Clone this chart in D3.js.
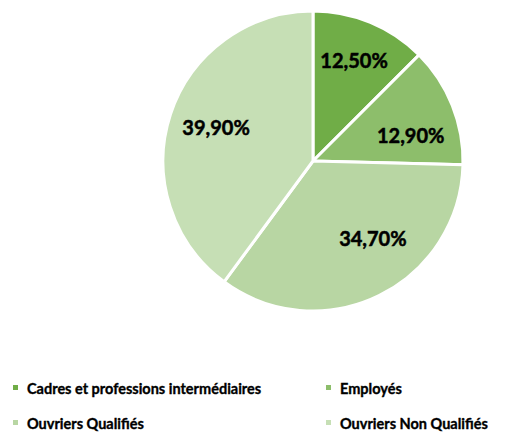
<!DOCTYPE html>
<html>
<head>
<meta charset="utf-8">
<script src="https://cdn.jsdelivr.net/npm/d3@7"></script>
<style>
  html, body { margin: 0; padding: 0; background: #fff; }
  svg { display: block; }
</style>
</head>
<body>
<svg id="chart" width="517" height="432"></svg>
<script>
const categories = ["Cadres et professions intermédiaires", "Employés", "Ouvriers Qualifiés", "Ouvriers Non Qualifiés"];
const values = [12.5, 12.9, 34.7, 39.9];
const labels = ["12,50%", "12,90%", "34,70%", "39,90%"];
const colors = ["#70AD47", "#8DBE6B", "#B8D6A3", "#C6DFB5"];

const svg = d3.select("#chart");
const cx = 313, cy = 161, r = 150;
// small label nudges (layout only, mimicking Excel best-fit placement)
const labelNudge = [[2, -7], [3, 12], [15, -15], [0, -2]];

const data = categories.map((c, i) => ({ cat: c, value: values[i], label: labels[i], color: colors[i], i }));

const pie = d3.pie().value(d => d.value).sort(null);
const arc = d3.arc().innerRadius(0).outerRadius(r);
const labelArc = d3.arc().innerRadius(r * 0.68).outerRadius(r * 0.68);

const g = svg.append("g").attr("transform", `translate(${cx},${cy})`);
const arcs = pie(data);

g.selectAll("path").data(arcs).enter().append("path")
  .attr("d", arc)
  .attr("fill", d => d.data.color)
  .attr("stroke", "#fff")
  .attr("stroke-width", 3)
  .attr("stroke-linejoin", "miter");

g.selectAll("text").data(arcs).enter().append("text")
  .attr("transform", d => {
    const [x, y] = labelArc.centroid(d);
    const n = labelNudge[d.data.i];
    return `translate(${x + n[0]},${y + n[1]})`;
  })
  .attr("text-anchor", "middle")
  .attr("dominant-baseline", "central")
  .attr("font-family", "Lato, sans-serif")
  .attr("font-weight", "bold")
  .attr("font-size", 20)
  .attr("fill", "#000")
  .attr("stroke", "#000")
  .attr("stroke-width", 0.5)
  .text(d => d.data.label);

// Legend
const legendPos = [
  { x: 13, y: 388 },
  { x: 326, y: 388 },
  { x: 13, y: 423 },
  { x: 326, y: 423 }
];
const lg = svg.append("g");
const items = lg.selectAll("g").data(data).enter().append("g")
  .attr("transform", (d, i) => `translate(${legendPos[i].x},${legendPos[i].y})`);
items.append("rect")
  .attr("x", 0).attr("y", -3)
  .attr("width", 5).attr("height", 5)
  .attr("fill", d => d.color);
items.append("text")
  .attr("x", 14).attr("y", 0)
  .attr("dominant-baseline", "central")
  .attr("font-family", "Lato, sans-serif")
  .attr("font-weight", "bold")
  .attr("font-size", 14.5)
  .attr("fill", "#000")
  .attr("stroke", "#000")
  .attr("stroke-width", 0.35)
  .text(d => d.cat);
</script>
</body>
</html>
